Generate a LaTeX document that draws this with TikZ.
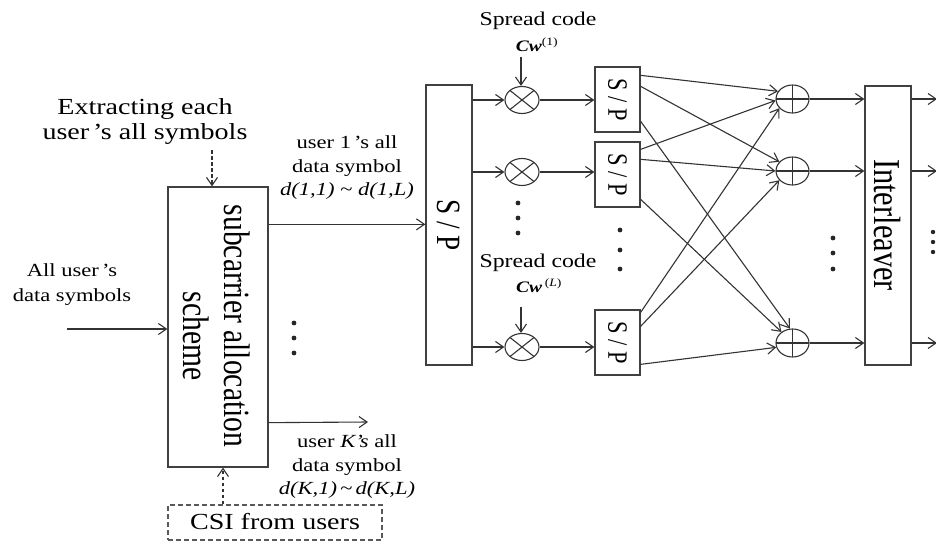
\documentclass[tikz,border=0pt]{standalone}
\usepackage{fontspec}
\setmainfont{Liberation Serif}
\newfontfamily\hfont[FakeStretch=1.22]{Liberation Serif}
\newfontfamily\vfont[FakeStretch=0.8]{Liberation Serif}
\usetikzlibrary{arrows.meta,shapes.geometric,calc}
\tikzset{
  ln/.style={draw=black!80, line width=1.1pt},
  arr/.style={ln, -{Straight Barb[length=8pt,width=11pt]}},
  darr/.style={arr, dash pattern=on 3.5pt off 2.5pt},
  blk/.style={draw=black!75, line width=1.3pt, inner sep=0pt, rectangle},
  txt/.style={inner sep=0pt, align=center},
  mul/.style={ellipse, draw=black!80, line width=1.1pt, minimum width=34pt, minimum height=27pt, inner sep=0pt,
    path picture={\draw[black!80, line width=1.1pt] (path picture bounding box.south west) -- (path picture bounding box.north east)
      (path picture bounding box.north west) -- (path picture bounding box.south east);}},
  addr/.style={ellipse, draw=black!80, line width=1.1pt, minimum width=33pt, minimum height=28pt, inner sep=0pt,
    path picture={\draw[black!80, line width=1.1pt] (path picture bounding box.north) -- (path picture bounding box.south)
      (path picture bounding box.west) -- (path picture bounding box.east);}},
  rtxt/.style={rotate=-90, inner sep=0pt},
  dotfill/.style={fill=black!85}
}
\begin{document}
\begin{tikzpicture}[x=1pt, y=-1pt]
\useasboundingbox (0,0) rectangle (936,543);

% subcarrier allocation block
\node[blk, minimum width=100pt, minimum height=280pt] (sa) at (218,327) {};
\node[rtxt, font=\vfont\fontsize{37}{40}\selectfont] (satxt1) at (237,326) {subcarrier allocation};
\node[rtxt, font=\vfont\fontsize{37}{40}\selectfont] (satxt2) at (196,336) {scheme};

% texts on the left
\node[txt, font=\hfont\fontsize{23}{25}\selectfont] (extract) at (145,122) {Extracting each\\user\,’s all symbols};
\node[txt, font=\hfont\fontsize{18.5}{25}\selectfont] (allin) at (72,285) {All user\,’s\\data symbols};
\coordinate (ex) at (212,150);
\draw[darr] (ex) -- (ex |- sa.north);
\coordinate (in) at (67,329);
\draw[arr] (in) -- (in -| sa.west);

% CSI box
\node[blk, dash pattern=on 5pt off 3pt, draw=black!65, minimum width=214pt, minimum height=35pt] (csi) at (275,522.5) {};
\node[txt, font=\hfont\fontsize{23}{25}\selectfont] (csitxt) at (275,522) {CSI from users};
\draw[darr] ([xshift=-52pt]csi.north) -- ([xshift=-52pt]csi.north |- sa.south);

% big S/P
\node[blk, minimum width=46pt, minimum height=280pt] (SP) at (449,225) {};
\node[rtxt, font=\vfont\fontsize{34}{36}\selectfont] (SPtxt) at (SP.center) {S / P};

% user outputs
\coordinate (u1) at ([yshift=-38pt]sa.north east);
\draw[arr] (u1) -- (u1 -| SP.west);
\node[txt, font=\hfont\fontsize{18.5}{23.5}\selectfont] (u1lab) at (347,168) {user 1\,’s all\\data symbol\\\textit{d(1,1)} \textasciitilde\ \textit{d(1,L)}};
\coordinate (uK) at ([yshift=45pt]sa.south east);
\coordinate (uKend) at (368,422);
\draw[arr] (uK) -- (uKend);
\node[txt, font=\hfont\fontsize{18.5}{23.5}\selectfont] (uKlab) at (347,467) {user \textit{K’s} all\\data symbol\\\textit{d(K,1)}\,\textasciitilde\,\textit{d(K,L)}};
\foreach \yy in {323,338,353} \fill[dotfill] (294,\yy) circle (2.4pt);

% multipliers
\node[mul] (m1) at (522,100) {};
\node[mul] (m2) at (522,172) {};
\node[mul] (m3) at (522,347) {};
\draw[arr] (m1 -| SP.east) -- (m1.west);
\draw[arr] (m2 -| SP.east) -- (m2.west);
\draw[arr] (m3 -| SP.east) -- (m3.west);
\foreach \yy in {203,218,233} \fill[dotfill] (518,\yy) circle (2.4pt);

% spread codes
\node[txt, font=\hfont\fontsize{19.5}{22}\selectfont] (sc1) at (538,21) {Spread code};
\node[txt, font=\hfont\fontsize{16}{18}\selectfont] (cw1) at (537,45) {{\bfseries\itshape Cw}\textsuperscript{(1)}};
\coordinate (c1) at (521,57);
\draw[arr] (c1) -- (c1 |- m1.north);
\node[txt, font=\hfont\fontsize{19.5}{22}\selectfont] (sc2) at (538,263) {Spread code};
\node[txt, font=\hfont\fontsize{16}{18}\selectfont] (cw2) at (539,286) {{\bfseries\itshape Cw}\,\textsuperscript{(\textit{L})}};
\coordinate (c2) at (521,307);
\draw[arr] (c2) -- (c2 |- m3.north);

% small S/P boxes
\node[blk, minimum width=45pt, minimum height=65pt] (sp1) at (617.5,99.5) {};
\node[blk, minimum width=45pt, minimum height=65pt] (sp2) at (617.5,174.5) {};
\node[blk, minimum width=45pt, minimum height=65pt] (sp3) at (617.5,342.5) {};
\node[rtxt, font=\vfont\fontsize{28}{30}\selectfont] (sp1t) at (sp1.center) {S / P};
\node[rtxt, font=\vfont\fontsize{28}{30}\selectfont] (sp2t) at (sp2.center) {S / P};
\node[rtxt, font=\vfont\fontsize{28}{30}\selectfont] (sp3t) at (sp3.center) {S / P};
\draw[arr] (m1.east) -- (m1.east -| sp1.west);
\draw[arr] (m2.east) -- (m2.east -| sp2.west);
\draw[arr] (m3.east) -- (m3.east -| sp3.west);
\foreach \yy in {230,250,269} \fill[dotfill] (620,\yy) circle (2.4pt);

% adders
\node[addr] (a1) at (792.5,99) {};
\node[addr] (a2) at (792.5,171) {};
\node[addr] (a3) at (792.5,343) {};
\foreach \yy in {238,253,269} \fill[dotfill] (833,\yy) circle (2.4pt);

% crossing connections
\draw[arr] ([yshift=-9pt]sp1.north east) -- (a1.152);
\draw[arr] ([yshift=-20pt]sp1.north east) -- (a2.145);
\draw[arr] ([yshift=-55pt]sp1.north east) -- (a3.100);
\draw[arr] ([yshift=-8pt]sp2.north east) -- (a1.185);
\draw[arr] ([yshift=-18pt]sp2.north east) -- (a2.180);
\draw[arr] ([yshift=-58pt]sp2.north east) -- (a3.135);
\draw[arr] ([yshift=-3pt]sp3.north east) -- (a1.215);
\draw[arr] ([yshift=-17pt]sp3.north east) -- (a2.215);
\draw[arr] ([yshift=-55pt]sp3.north east) -- (a3.195);

% interleaver
\node[blk, minimum width=46pt, minimum height=279pt] (il) at (888,225.5) {};
\node[rtxt, font=\vfont\fontsize{38}{40}\selectfont] (iltxt) at (887,225) {Interleaver};
\draw[arr] (a1.east) -- (a1.east -| il.west);
\draw[arr] (a2.east) -- (a2.east -| il.west);
\draw[arr] (a3.east) -- (a3.east -| il.west);
\coordinate (o1) at (937,99);
\coordinate (o2) at (937,171);
\coordinate (o3) at (937,343);
\draw[arr] (o1 -| il.east) -- (o1);
\draw[arr] (o2 -| il.east) -- (o2);
\draw[arr] (o3 -| il.east) -- (o3);
\foreach \yy in {232,242,252} \fill[dotfill] (933,\yy) circle (2.2pt);
\end{tikzpicture}
\end{document}
